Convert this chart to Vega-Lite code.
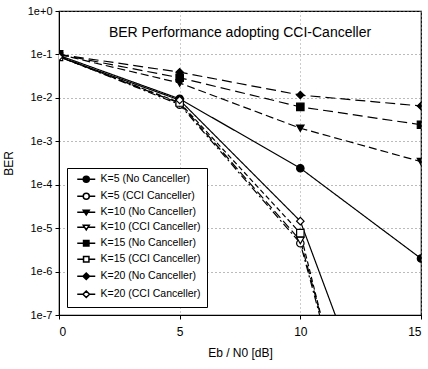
{
  "$schema": "https://vega.github.io/schema/vega-lite/v6.json",
  "width": 362,
  "height": 304,
  "autosize": "none",
  "padding": {"left": 59, "top": 11, "right": 7, "bottom": 54},
  "background": "white",
  "config": {
    "font": "Liberation Sans",
    "view": {"stroke": "black", "strokeWidth": 1.2},
    "axis": {"labelColor": "black", "titleColor": "black", "domainColor": "black", "tickColor": "black", "labelFont": "Liberation Sans", "titleFont": "Liberation Sans", "titleFontWeight": "normal"}
  },
  "title": {"text": "BER Performance adopting CCI-Canceller", "orient": "top", "anchor": "middle", "frame": "group", "offset": -35, "fontSize": 14, "fontWeight": "normal", "color": "black", "font": "Liberation Sans"},
  "data": {"values": [
    {"series": "K=5 (No Canceller)", "snr": 0, "ber": 0.095},
    {"series": "K=5 (No Canceller)", "snr": 5, "ber": 0.0095},
    {"series": "K=5 (No Canceller)", "snr": 10, "ber": 0.00024},
    {"series": "K=5 (No Canceller)", "snr": 15, "ber": 0.000002},
    {"series": "K=5 (CCI Canceller)", "snr": 0, "ber": 0.09},
    {"series": "K=5 (CCI Canceller)", "snr": 5, "ber": 0.007},
    {"series": "K=5 (CCI Canceller)", "snr": 10, "ber": 0.0000045},
    {"series": "K=5 (CCI Canceller)", "snr": 15, "ber": 2e-16},
    {"series": "K=10 (No Canceller)", "snr": 0, "ber": 0.1},
    {"series": "K=10 (No Canceller)", "snr": 5, "ber": 0.022},
    {"series": "K=10 (No Canceller)", "snr": 10, "ber": 0.002},
    {"series": "K=10 (No Canceller)", "snr": 15, "ber": 0.00034},
    {"series": "K=10 (CCI Canceller)", "snr": 0, "ber": 0.09},
    {"series": "K=10 (CCI Canceller)", "snr": 5, "ber": 0.0075},
    {"series": "K=10 (CCI Canceller)", "snr": 10, "ber": 0.0000052},
    {"series": "K=10 (CCI Canceller)", "snr": 15, "ber": 3e-16},
    {"series": "K=15 (No Canceller)", "snr": 0, "ber": 0.1},
    {"series": "K=15 (No Canceller)", "snr": 5, "ber": 0.029},
    {"series": "K=15 (No Canceller)", "snr": 10, "ber": 0.0062},
    {"series": "K=15 (No Canceller)", "snr": 15, "ber": 0.0024},
    {"series": "K=15 (CCI Canceller)", "snr": 0, "ber": 0.088},
    {"series": "K=15 (CCI Canceller)", "snr": 5, "ber": 0.0078},
    {"series": "K=15 (CCI Canceller)", "snr": 10, "ber": 0.0000077},
    {"series": "K=15 (CCI Canceller)", "snr": 15, "ber": 6e-17},
    {"series": "K=20 (No Canceller)", "snr": 0, "ber": 0.1},
    {"series": "K=20 (No Canceller)", "snr": 5, "ber": 0.039},
    {"series": "K=20 (No Canceller)", "snr": 10, "ber": 0.0116},
    {"series": "K=20 (No Canceller)", "snr": 15, "ber": 0.0065},
    {"series": "K=20 (CCI Canceller)", "snr": 0, "ber": 0.088},
    {"series": "K=20 (CCI Canceller)", "snr": 5, "ber": 0.0089},
    {"series": "K=20 (CCI Canceller)", "snr": 10, "ber": 0.0000145},
    {"series": "K=20 (CCI Canceller)", "snr": 15, "ber": 5e-13}
  ]},
  "encoding": {
    "x": {"field": "snr", "type": "quantitative", "scale": {"domain": [0, 15], "nice": false}, "title": "Eb / N0 [dB]",
      "axis": {"values": [0, 5, 10, 15], "grid": true, "gridDash": [1, 3], "gridColor": "#999999", "labelFontSize": 12, "titleFontSize": 12, "tickSize": 4, "labelPadding": 7, "titlePadding": 10}},
    "y": {"field": "ber", "type": "quantitative", "scale": {"type": "log", "domain": [1e-7, 1], "nice": false}, "title": "BER",
      "axis": {"values": [1, 0.1, 0.01, 0.001, 0.0001, 0.00001, 0.000001, 0.0000001], "labelExpr": "datum.value >= 1 ? '1e+0' : '1e' + round(log(datum.value)/LN10)", "grid": true, "gridDash": [1, 3], "gridColor": "#777777", "labelFontSize": 11, "titleFontSize": 12, "tickSize": 4, "labelPadding": 3, "titlePadding": 12}}
  },
  "layer": [
    {
      "mark": {"type": "line", "clip": true, "color": "black", "strokeWidth": 1.2},
      "encoding": {
        "detail": {"field": "series", "type": "nominal"},
        "strokeDash": {"field": "series", "type": "nominal", "legend": null,
          "scale": {"domain": ["K=20 (CCI Canceller)", "K=20 (No Canceller)", "K=15 (CCI Canceller)", "K=15 (No Canceller)", "K=10 (CCI Canceller)", "K=10 (No Canceller)", "K=5 (CCI Canceller)", "K=5 (No Canceller)"],
            "range": [[1, 0], [10, 5], [5, 3], [10, 5], [9, 4], [8, 4], [8, 3, 2, 3], [1, 0]]}}
      }
    },
    {
      "mark": {"type": "point", "clip": true, "filled": true, "stroke": "black", "strokeWidth": 1.2, "size": 55, "opacity": 1},
      "encoding": {
        "shape": {"condition": [
          {"test": "indexof(datum.series,'K=5 ')==0", "value": "circle"},
          {"test": "indexof(datum.series,'K=10')==0", "value": "triangle-down"},
          {"test": "indexof(datum.series,'K=15')==0", "value": "square"}
        ], "value": "diamond"},
        "fill": {"condition": {"test": "indexof(datum.series,'No Canceller')>=0", "value": "black"}, "value": "white"}
      }
    },
    {
      "transform": [{"filter": "datum.snr > 100"}],
      "mark": {"type": "point", "clip": true, "filled": true, "stroke": "black", "strokeWidth": 1.2, "size": 36, "opacity": 1},
      "encoding": {
        "shape": {"field": "series", "type": "nominal", "title": null,
          "scale": {"domain": ["K=5 (No Canceller)", "K=5 (CCI Canceller)", "K=10 (No Canceller)", "K=10 (CCI Canceller)", "K=15 (No Canceller)", "K=15 (CCI Canceller)", "K=20 (No Canceller)", "K=20 (CCI Canceller)"],
            "range": ["M-3,0H-1M1,0H3M-1,0A1,1 0 1,1 1,0A1,1 0 1,1 -1,0Z", "M-3,0H-1M1,0H3M-1,0A1,1 0 1,1 1,0A1,1 0 1,1 -1,0Z", "M-3,0H-0.56M0.56,0H3M-1,-0.7L1,-0.7L0,0.9Z", "M-3,0H-0.56M0.56,0H3M-1,-0.7L1,-0.7L0,0.9Z", "M-3,0H-0.9M0.9,0H3M-0.9,-0.9H0.9V0.9H-0.9Z", "M-3,0H-0.9M0.9,0H3M-0.9,-0.9H0.9V0.9H-0.9Z", "M-3,0H-1.1M1.1,0H3M0,-1.1L1.1,0L0,1.1L-1.1,0Z", "M-3,0H-1.1M1.1,0H3M0,-1.1L1.1,0L0,1.1L-1.1,0Z"]},
          "legend": {"orient": "bottom-left", "offset": 8, "strokeColor": "black", "fillColor": "white", "padding": 6, "labelFontSize": 10.5, "labelFont": "Liberation Sans", "labelColor": "black", "symbolSize": 36, "rowPadding": 4, "symbolOffset": 8, "labelOffset": 9,
            "encode": {"symbols": {"update": {"stroke": {"value": "black"}, "strokeWidth": {"value": 1.2}}}}}},
        "fill": {"field": "series", "type": "nominal", "title": null,
          "scale": {"domain": ["K=5 (No Canceller)", "K=5 (CCI Canceller)", "K=10 (No Canceller)", "K=10 (CCI Canceller)", "K=15 (No Canceller)", "K=15 (CCI Canceller)", "K=20 (No Canceller)", "K=20 (CCI Canceller)"],
            "range": ["black", "white", "black", "white", "black", "white", "black", "white"]}}
      }
    }
  ]
}
